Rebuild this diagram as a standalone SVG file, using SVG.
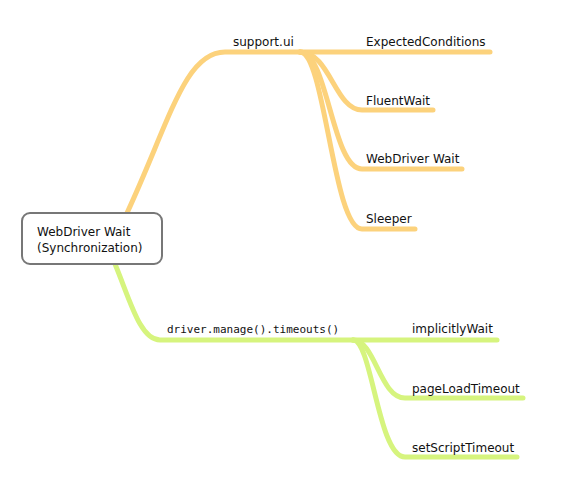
<svg xmlns="http://www.w3.org/2000/svg" width="580" height="477" viewBox="0 0 580 477">
<style>
.o{fill:none;stroke:#FCD27C;stroke-width:5;stroke-linecap:round}
.g{fill:none;stroke:#D6F47E;stroke-width:5;stroke-linecap:round}
.t{font-family:"DejaVu Sans",sans-serif;font-size:12px;fill:#111}
.m{font-family:"DejaVu Sans Mono",monospace;font-size:11px;fill:#111}
</style>
<rect width="580" height="477" fill="#fff"/>
<g id="connectors">
<path class="o" d="M127,213 C170,120 185,52 225,52 L300,52"/>
<path class="o" d="M300,52 L490,52"/>
<path class="o" d="M300,52 C330,52 335,110 362,110 L433,110"/>
<path class="o" d="M300,52 C328,52 332,169 362,169 L462,169"/>
<path class="o" d="M300,52 C325,52 333,229 362,229 L415,229"/>
<path class="g" d="M115,264 C130,300 140,340 160,340 L353,340"/>
<path class="g" d="M353,340 L497,340"/>
<path class="g" d="M353,340 C375,340 380,398 405,398 L523,398"/>
<path class="g" d="M353,340 C372,340 378,457 405,457 L517,457"/>
</g>
<g id="root">
<rect x="22" y="213" width="140" height="51" rx="8" fill="#fff" stroke="#777" stroke-width="2"/>
<text class="t" x="37" y="236">WebDriver Wait</text>
<text class="t" x="37" y="252">(Synchronization)</text>
</g>
<g id="support-ui"><text class="t" x="233" y="46">support.ui</text></g>
<g id="expected-conditions"><text class="t" x="366" y="46">ExpectedConditions</text></g>
<g id="fluent-wait"><text class="t" x="366" y="105">FluentWait</text></g>
<g id="webdriver-wait"><text class="t" x="366" y="163">WebDriver Wait</text></g>
<g id="sleeper"><text class="t" x="366" y="223">Sleeper</text></g>
<g id="timeouts"><text class="m" x="167" y="333">driver.manage().timeouts()</text></g>
<g id="implicitly-wait"><text class="t" x="412" y="333">implicitlyWait</text></g>
<g id="page-load-timeout"><text class="t" x="412" y="393">pageLoadTimeout</text></g>
<g id="set-script-timeout"><text class="t" x="412" y="452">setScriptTimeout</text></g>
</svg>
